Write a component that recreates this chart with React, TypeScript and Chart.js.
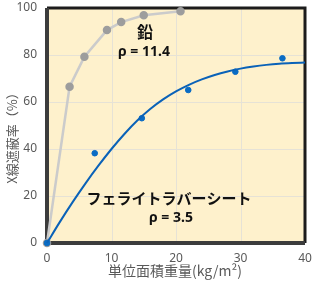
import React, { useEffect, useRef } from "react";
import { Chart, registerables } from "chart.js";

Chart.register(...registerables);

// 鉛 (lead) measured points
const leadX = [0, 3.5, 5.8, 9.3, 11.5, 15, 20.7];
const leadY = [0, 66.5, 79.3, 90.6, 94, 96.9, 98.6];

// フェライトラバーシート measured points
const ferriteX = [0, 7.4, 14.7, 21.9, 29.2, 36.5];
const ferriteY = [0, 38.2, 53.1, 65.1, 72.9, 78.6];

// trend line
const trendX = [0, 2, 4, 6, 8, 10, 12, 14, 16, 18, 20, 22, 24, 26, 28, 30, 32, 34, 36, 38, 40];
const trendY = [0, 9, 17.5, 25.5, 33, 40, 46.4, 52.1, 57, 61.1, 64.5, 67.3, 69.6, 71.5, 73, 74.2, 75.1, 75.8, 76.3, 76.6, 76.8];

const xTicks = [0, 10, 20, 30, 40];
const yTicks = [0, 20, 40, 60, 80, 100];

const xTitle = "単位面積重量(kg/m²)";
const yTitle = "X線遮蔽率（%）";
const leadLabel = "鉛";
const leadRho = "ρ = 11.4";
const ferriteLabel = "フェライトラバーシート";
const ferriteRho = "ρ = 3.5";

const JP = '"Noto Sans CJK JP", "Noto Sans", sans-serif';

const decor = {
  id: "decor",
  beforeDatasetsDraw(chart: any) {
    const { ctx, chartArea: a } = chart;
    ctx.save();
    ctx.fillStyle = "#fef1cc";
    ctx.fillRect(a.left, a.top, a.right - a.left, a.bottom - a.top);
    ctx.strokeStyle = "#e6e2d6";
    ctx.lineWidth = 1;
    const xs = chart.scales.x, ys = chart.scales.y;
    xTicks.forEach((v) => {
      const px = Math.round(xs.getPixelForValue(v)) + 0.5;
      ctx.beginPath();
      ctx.moveTo(px, a.top);
      ctx.lineTo(px, a.bottom);
      ctx.stroke();
    });
    yTicks.forEach((v) => {
      const py = Math.round(ys.getPixelForValue(v)) + 0.5;
      ctx.beginPath();
      ctx.moveTo(a.left, py);
      ctx.lineTo(a.right, py);
      ctx.stroke();
    });
    ctx.strokeStyle = "#1c1c1c";
    ctx.lineWidth = 3;
    ctx.beginPath();
    ctx.moveTo(a.left, a.top);
    ctx.lineTo(a.right, a.top);
    ctx.lineTo(a.right, a.bottom);
    ctx.stroke();
    ctx.strokeStyle = "#3c3c3c";
    ctx.lineWidth = 4;
    ctx.beginPath();
    ctx.moveTo(a.left, a.top);
    ctx.lineTo(a.left, a.bottom);
    ctx.lineTo(a.right, a.bottom);
    ctx.stroke();
    ctx.restore();
  },
  afterDraw(chart: any) {
    const { ctx } = chart;
    ctx.save();
    ctx.fillStyle = "#111";
    ctx.textAlign = "center";
    ctx.textBaseline = "middle";
    ctx.font = `bold 16px ${JP}`;
    ctx.fillText(leadLabel, 145, 32);
    ctx.font = `bold 14px "Noto Sans", ${JP}`;
    ctx.fillText(leadRho, 144, 52);
    ctx.font = `bold 15px ${JP}`;
    ctx.fillText(ferriteLabel, 169, 198);
    ctx.font = `bold 14px "Noto Sans", ${JP}`;
    ctx.fillText(ferriteRho, 171, 218);
    ctx.fillStyle = "#595959";
    ctx.font = `14px ${JP}`;
    ctx.fillText(xTitle, 175, 271);
    ctx.translate(12, 135);
    ctx.rotate(-Math.PI / 2);
    ctx.font = `13px ${JP}`;
    ctx.fillText(yTitle, 0, 0);
    ctx.restore();
  },
};

export default function App() {
  const ref = useRef<HTMLCanvasElement>(null);
  useEffect(() => {
    const chart = new Chart(ref.current!, {
      type: "scatter",
      data: {
        datasets: [
          {
            label: "trend",
            data: trendX.map((x, i) => ({ x, y: trendY[i] })),
            showLine: true,
            borderColor: "#0a62b8",
            borderWidth: 2,
            pointRadius: 0,
            cubicInterpolationMode: "monotone",
            clip: false,
          } as any,
          {
            label: "ferrite",
            data: ferriteX.map((x, i) => ({ x, y: ferriteY[i] })),
            showLine: false,
            backgroundColor: "#0a6cc4",
            borderColor: "#0a6cc4",
            pointRadius: 2.8,
            clip: false,
          } as any,
          {
            label: "lead",
            data: leadX.map((x, i) => ({ x, y: leadY[i] })),
            showLine: true,
            borderColor: "#cbcbcb",
            borderWidth: 2.5,
            backgroundColor: "#9d9d9d",
            pointBorderColor: "#9d9d9d",
            pointRadius: 3,
            clip: false,
          } as any,
        ],
      },
      options: {
        animation: false,
        responsive: false,
        layout: { padding: { top: 8, right: 10, left: 0, bottom: 0 } },
        plugins: { legend: { display: false }, tooltip: { enabled: false } },
        scales: {
          x: {
            type: "linear",
            min: 0,
            max: 40,
            afterBuildTicks: (s: any) => { s.ticks = xTicks.map((v) => ({ value: v })); },
            afterFit: (s: any) => {
              s.height = 39;
              s.paddingLeft = 0;
              s.paddingRight = 0;
            },
            grid: { display: false, drawTicks: false },
            border: { display: false },
            ticks: {
              padding: 8,
              color: "#595959",
              font: { size: 12, family: '"Noto Sans", sans-serif' },
              maxRotation: 0,
            },
          },
          y: {
            type: "linear",
            min: 0,
            max: 100,
            afterBuildTicks: (s: any) => { s.ticks = yTicks.map((v) => ({ value: v })); },
            afterFit: (s: any) => {
              s.width = 47;
              s.paddingTop = 0;
              s.paddingBottom = 0;
            },
            grid: { display: false, drawTicks: false },
            border: { display: false },
            ticks: {
              padding: 10,
              color: "#595959",
              font: { size: 12, family: '"Noto Sans", sans-serif' },
            },
          },
        },
      },
      plugins: [decor],
    } as any);
    return () => chart.destroy();
  }, []);
  return (
    <div style={{ position: "fixed", left: 0, top: 0, width: 315, height: 282, background: "#fff" }}>
      <canvas ref={ref} width={315} height={282} />
    </div>
  );
}
